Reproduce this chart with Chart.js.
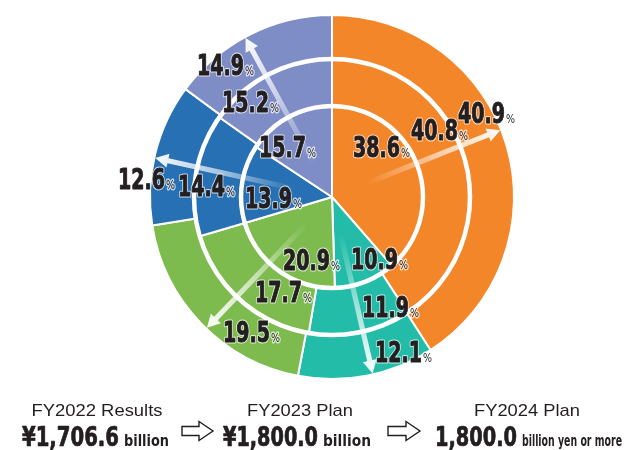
<!DOCTYPE html>
<html>
<head>
<meta charset="utf-8">
<script src="https://cdn.jsdelivr.net/npm/chart.js@4/dist/chart.umd.min.js"></script>
<style>
  html,body{margin:0;padding:0;background:#fff;}
  #wrap{width:627px;height:450px;position:relative;}
</style>
</head>
<body>
<div id="wrap"><canvas id="c" width="627" height="450"></canvas></div>
<script>
// ---- data ----
const segments = ['Segment 1', 'Segment 2', 'Segment 3', 'Segment 4', 'Segment 5'];
const fy2022 = [38.6, 10.9, 20.9, 13.9, 15.7];
const fy2023 = [40.8, 11.9, 17.7, 14.4, 15.2];
const fy2024 = [40.9, 12.1, 19.5, 12.6, 14.9];
const periods = ['FY2022 Results', 'FY2023 Plan', 'FY2024 Plan'];
const totals = ['¥1,706.6', '¥1,800.0', '1,800.0'];
const totalUnits = ['billion', 'billion', 'billion yen or more'];

// ---- styles / layout ----
const colors = ['#F4862A', '#23BCA8', '#7EBB4F', '#2770B3', '#7F8DC7'];
const textColor = '#231F20';
const condensed = "'Liberation Sans Narrow','DejaVu Sans Condensed','Roboto Condensed',sans-serif";
// label anchor offsets (left x, baseline) from centre, per ring [outer, middle, inner]
const labelOffsets = [
  [[126,-74],[43,165],[-109,145],[-214,-8],[-135,-122]],
  [[79,-57],[30,120],[-77,105],[-154,-1],[-110,-85]],
  [[21,-40],[19,72],[-49,73],[-87,11],[-73,-40]]
];
const arrowAdjustDeg = [-5.3, -2, -2.2, -1.2, -1.7];

function fitText(ctx, text, x, y, font, width, align, halo, bolden) {
  ctx.save();
  ctx.font = font;
  const w = ctx.measureText(text).width;
  const s = width ? width / w : 1;
  ctx.translate(x, y);
  ctx.scale(s, 1);
  ctx.textAlign = align || 'left';
  ctx.textBaseline = 'alphabetic';
  ctx.lineJoin = 'round';
  if (halo) {
    ctx.strokeStyle = 'rgba(255,255,255,0.7)';
    ctx.lineWidth = 2.4 / s;
    ctx.strokeText(text, 0, 0);
  }
  ctx.fillStyle = textColor;
  ctx.fillText(text, 0, 0);
  if (bolden) {
    ctx.strokeStyle = textColor;
    ctx.lineWidth = bolden / s;
    ctx.strokeText(text, 0, 0);
  }
  ctx.restore();
  return w * s;
}

function drawArrow(ctx, cx, cy, ang, r0, r1) {
  const ux = Math.cos(ang), uy = Math.sin(ang);
  const px = -uy, py = ux;
  const x0 = cx + ux * r0, y0 = cy + uy * r0;
  const x1 = cx + ux * r1, y1 = cy + uy * r1;
  const headLen = 13, headW = 7, shaftW = 2.6;
  const grad = ctx.createLinearGradient(x0, y0, x1, y1);
  grad.addColorStop(0, 'rgba(255,255,255,0)');
  grad.addColorStop(0.55, 'rgba(255,255,255,0.6)');
  grad.addColorStop(1, 'rgba(255,255,255,0.97)');
  const hx = x1 - ux * headLen, hy = y1 - uy * headLen;
  ctx.beginPath();
  ctx.moveTo(x0 + px * shaftW, y0 + py * shaftW);
  ctx.lineTo(hx + px * shaftW, hy + py * shaftW);
  ctx.lineTo(hx + px * headW, hy + py * headW);
  ctx.lineTo(x1, y1);
  ctx.lineTo(hx - px * headW, hy - py * headW);
  ctx.lineTo(hx - px * shaftW, hy - py * shaftW);
  ctx.lineTo(x0 - px * shaftW, y0 - py * shaftW);
  ctx.closePath();
  ctx.fillStyle = grad;
  ctx.fill();
}

function drawOutlineArrow(ctx, x0, x1, cy) {
  const shaftH = 4.5, headH = 9.5, headL = 14;
  const hx = x1 - headL;
  ctx.save();
  ctx.beginPath();
  ctx.moveTo(x0, cy - shaftH);
  ctx.lineTo(hx, cy - shaftH);
  ctx.lineTo(hx, cy - headH);
  ctx.lineTo(x1, cy);
  ctx.lineTo(hx, cy + headH);
  ctx.lineTo(hx, cy + shaftH);
  ctx.lineTo(x0, cy + shaftH);
  ctx.closePath();
  ctx.lineWidth = 1.4;
  ctx.lineJoin = 'miter';
  ctx.strokeStyle = textColor;
  ctx.stroke();
  ctx.restore();
}

const overlay = {
  id: 'overlay',
  afterDatasetsDraw(chart) {
    const ctx = chart.ctx;
    const outerMeta = chart.getDatasetMeta(0);
    const cx = outerMeta.data[0].x, cy = outerMeta.data[0].y;
    // white ring separators
    ctx.save();
    ctx.strokeStyle = '#fff';
    ctx.lineWidth = 4.5;
    for (let d = 1; d < chart.data.datasets.length; d++) {
      const a = chart.getDatasetMeta(d).data[0];
      ctx.beginPath();
      ctx.arc(cx, cy, a.outerRadius, 0, Math.PI * 2);
      ctx.stroke();
    }
    // arrows along outer segments
    outerMeta.data.forEach((arc, i) => {
      const mid = (arc.startAngle + arc.endAngle) / 2 + arrowAdjustDeg[i] * Math.PI / 180;
      drawArrow(ctx, cx, cy, mid, 38, arc.outerRadius - 1);
    });
    // labels
    chart.data.datasets.forEach((ds, d) => {
      ds.data.forEach((v, i) => {
        const off = labelOffsets[d][i];
        const x = cx + off[0], y = cy + off[1];
        const w = fitText(ctx, v.toFixed(1), x, y, 'bold 28px ' + condensed, 47, 'left', true, 0.7);
        fitText(ctx, '%', x + w + 1, y, '13px ' + condensed, 9, 'left', true, 0);
      });
    });
    ctx.restore();

    // bottom captions
    const capX = [97, 300, 527];
    const capW = [131, 106, 106];
    const valX = [22, 223, 435];
    const valW = [97, 95, 82];
    const unitW = [45, 48, 100];
    periods.forEach((p, i) => {
      fitText(ctx, p, capX[i], 416, '17px "Liberation Sans", Arial, sans-serif', capW[i], 'center');
      const w = fitText(ctx, totals[i], valX[i], 446, 'bold 26px ' + condensed, valW[i], 'left', false, 0.6);
      fitText(ctx, totalUnits[i], valX[i] + w + 5, 446, 'bold 16px ' + condensed, unitW[i], 'left');
    });
    drawOutlineArrow(ctx, 182, 213, 431);
    drawOutlineArrow(ctx, 388, 420, 431);
  }
};

new Chart(document.getElementById('c'), {
  type: 'doughnut',
  data: {
    labels: segments,
    datasets: [
      { label: periods[2], data: fy2024, backgroundColor: colors, borderColor: '#fff', borderWidth: 2, weight: 44 },
      { label: periods[1], data: fy2023, backgroundColor: colors, borderColor: '#fff', borderWidth: 2, weight: 47 },
      { label: periods[0], data: fy2022, backgroundColor: colors, borderColor: '#fff', borderWidth: 2, weight: 91 }
    ]
  },
  options: {
    responsive: false,
    animation: false,
    devicePixelRatio: 1,
    cutout: 0,
    radius: 182,
    hoverOffset: 0,
    events: [],
    layout: { padding: { left: 37, right: 0, top: 10, bottom: 66 } },
    plugins: { legend: { display: false }, tooltip: { enabled: false } }
  },
  plugins: [overlay]
});
</script>
</body>
</html>
